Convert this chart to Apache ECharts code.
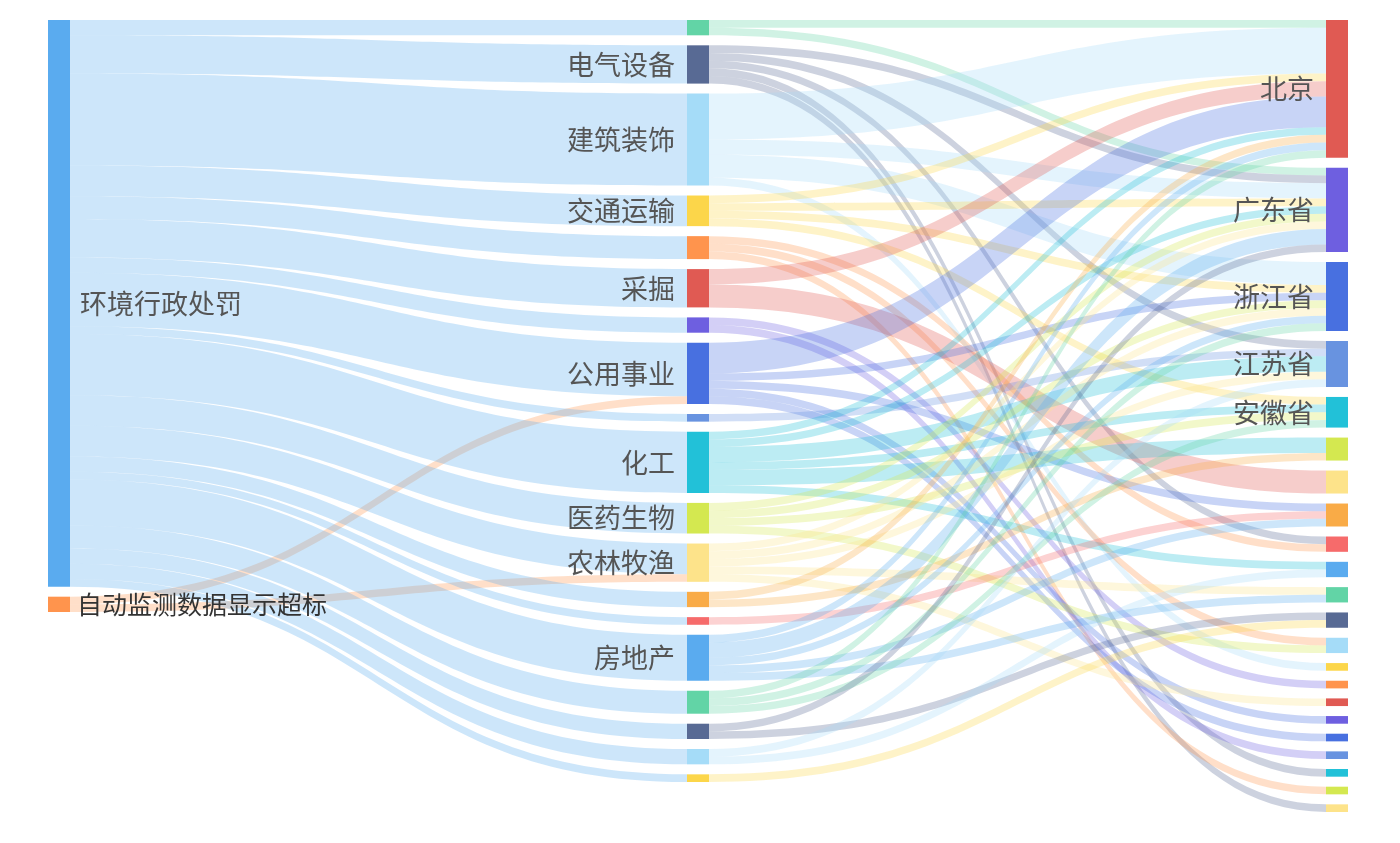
<!DOCTYPE html>
<html>
<head>
<meta charset="utf-8">
<script src="https://cdn.jsdelivr.net/npm/echarts@6/dist/echarts.min.js"></script>
<style>
html,body{margin:0;padding:0;background:#fff;}
#main{width:1400px;height:843px;}
</style>
</head>
<body>
<div id="main"></div>
<script>
// ---- data ----
const sourceNames = ['环境行政处罚', '自动监测数据显示超标'];
const industryNames = ['钢铁', '电气设备', '建筑装饰', '交通运输', '有色金属', '采掘', '轻工制造', '公用事业', '机械设备', '化工', '医药生物', '农林牧渔', '食品饮料', '纺织服装', '房地产', '商业贸易', '汽车', '电子', '综合'];
const regionNames = ['北京', '广东省', '浙江省', '江苏省', '安徽省', '山东省', '河北省', '河南省', '四川省', '湖北省', '福建省', '上海', '湖南省', '天津', '辽宁省', '山西省', '内蒙古', '江西省', '重庆', '陕西省', '云南省', '广西'];
// labels that are visible in the picture
const shownLabels = ['环境行政处罚', '自动监测数据显示超标', '电气设备', '建筑装饰', '交通运输', '采掘', '公用事业', '化工', '医药生物', '农林牧渔', '房地产', '北京', '广东省', '浙江省', '江苏省', '安徽省'];
// flows from 环境行政处罚 and 自动监测数据显示超标 to each industry
const fromPenalty = [2, 5, 12, 4, 3, 5, 2, 7, 1, 8, 4, 4, 2, 1, 6, 3, 2, 2, 1];
const fromMonitor = [0, 0, 0, 0, 0, 0, 0, 1, 0, 0, 0, 1, 0, 0, 0, 0, 0, 0, 0];
// industry -> region flows: [industry index, region index, value]
const industryToRegion = [
  [0, 0, 1], [0, 1, 1],
  [1, 1, 1], [1, 3, 1], [1, 8, 1], [1, 19, 1], [1, 21, 1],
  [2, 0, 6], [2, 1, 2], [2, 2, 3], [2, 13, 1],
  [3, 0, 1], [3, 1, 1], [3, 2, 1], [3, 4, 1],
  [4, 8, 1], [4, 12, 1], [4, 20, 1],
  [5, 0, 2], [5, 6, 3],
  [6, 14, 1], [6, 18, 1],
  [7, 0, 4], [7, 2, 1], [7, 7, 1], [7, 16, 1], [7, 17, 1],
  [8, 3, 1],
  [9, 0, 1], [9, 1, 1], [9, 3, 2], [9, 4, 1], [9, 5, 2], [9, 9, 1],
  [10, 1, 1], [10, 2, 1], [10, 4, 1], [10, 12, 1],
  [11, 1, 1], [11, 2, 1], [11, 3, 1], [11, 10, 1], [11, 15, 1],
  [12, 0, 1], [12, 5, 1],
  [13, 7, 1],
  [14, 0, 1], [14, 1, 2], [14, 2, 1], [14, 7, 1], [14, 10, 1],
  [15, 0, 1], [15, 2, 1], [15, 4, 1],
  [16, 1, 1], [16, 11, 1],
  [17, 3, 1], [17, 9, 1],
  [18, 11, 1]
];
const palette = ['#5aabef', '#62d4a6', '#586a94', '#a5dcf8', '#fcd64a', '#ff944d', '#e05a53', '#6e5fe0', '#4870e0', '#6893e0', '#22c1d8', '#d4e850', '#fde38a', '#f9ab47', '#f66b6b'];

// ---- build ----
const nodeOrder = [sourceNames[0]].concat(industryNames, [sourceNames[1]], regionNames);
const nodes = nodeOrder.map(function (name, i) {
  const isSource = sourceNames.indexOf(name) >= 0;
  const n = {
    name: name,
    itemStyle: { color: palette[i % palette.length] },
    label: { show: shownLabels.indexOf(name) >= 0 }
  };
  if (isSource) {
    n.label.position = 'right';
    n.label.distance = 10;
    if (name === sourceNames[1]) { n.label.fontSize = 25; n.label.color = '#333'; n.label.distance = 7; }
  }
  return n;
});
const links = [];
industryNames.forEach(function (ind, i) {
  if (fromPenalty[i] > 0) links.push({ source: sourceNames[0], target: ind, value: fromPenalty[i] });
  if (fromMonitor[i] > 0) links.push({ source: sourceNames[1], target: ind, value: fromMonitor[i] });
});
industryToRegion.forEach(function (f) {
  links.push({ source: industryNames[f[0]], target: regionNames[f[1]], value: f[2] });
});

const chart = echarts.init(document.getElementById('main'), null, { renderer: 'canvas' });
chart.setOption({
  backgroundColor: '#fff',
  animation: false,
  series: [{
    type: 'sankey',
    left: 48, right: 52, top: 20, bottom: 31,
    nodeWidth: 22,
    nodeGap: 10,
    layoutIterations: 0,
    draggable: false,
    data: nodes,
    links: links,
    lineStyle: { color: 'source', opacity: 0.3, curveness: 0.5 },
    label: {
      position: 'left',
      distance: 12,
      fontSize: 27,
      color: '#555',
      fontFamily: 'Noto Sans CJK SC'
    },
    emphasis: { disabled: true }
  }]
});
</script>
</body>
</html>
